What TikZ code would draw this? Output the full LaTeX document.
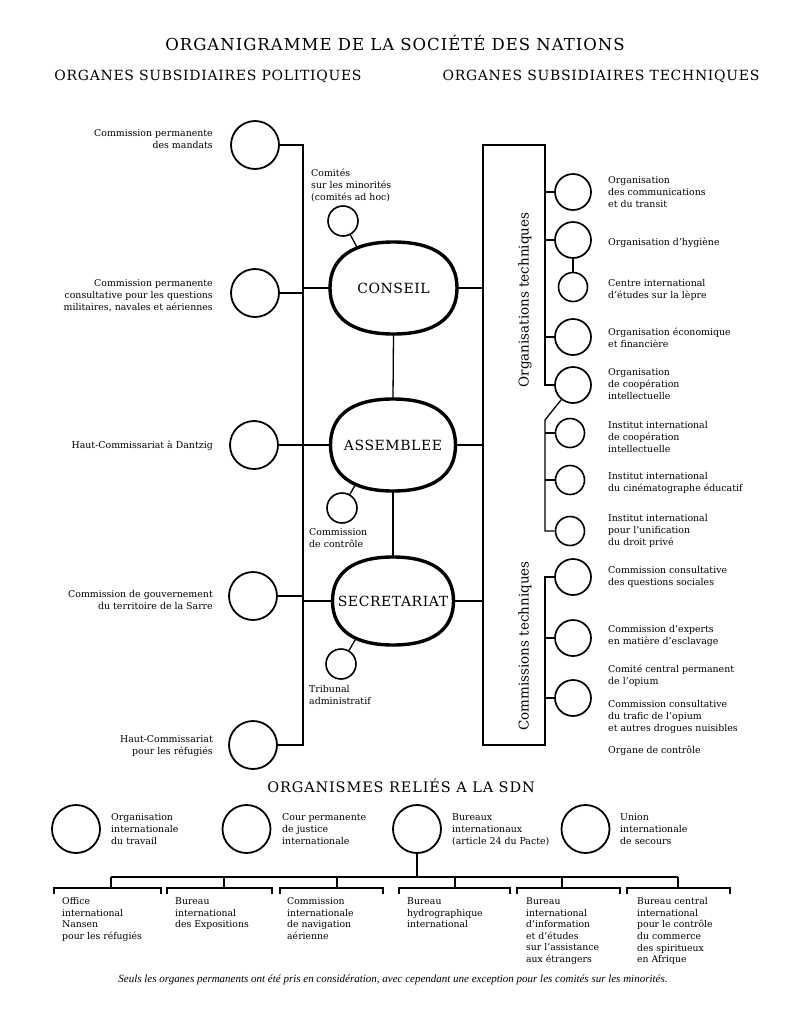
\documentclass[tikz,border=0pt]{standalone}
\usepackage{fontspec}
\usepackage{graphicx}
\setmainfont{DejaVu Serif}
\newfontfamily\titlefont[LetterSpace=6]{DejaVu Serif}
\newfontfamily\headfont[LetterSpace=5]{DejaVu Serif}
\newfontfamily\ovalfont[LetterSpace=4]{DejaVu Serif}
\newfontfamily\orgfont[LetterSpace=6]{DejaVu Serif}
\newfontfamily\notefont{Liberation Serif}
\usetikzlibrary{calc}
% squircle outline around a named centre: #1 centre, #2 half width, #3 half height
\newcommand\squircpath[3]{%
  \draw[ovalline] ($(#1)+(#2,0)$) .. controls +(0,0.65*#3) and +(0.65*#2,0) .. ($(#1)+(0,#3)$)
    .. controls +(-0.65*#2,0) and +(0,0.65*#3) .. ($(#1)+(-#2,0)$)
    .. controls +(0,-0.65*#3) and +(-0.65*#2,0) .. ($(#1)+(0,-#3)$)
    .. controls +(0.65*#2,0) and +(0,-0.65*#3) .. cycle;}
\begin{document}
\begin{tikzpicture}[x=1pt,y=-1pt,
  ln/.style={line width=1.3pt},
  ovalline/.style={line width=3.4pt},
  bigc/.style={circle,draw,line width=1.8pt,minimum size=48pt,inner sep=0pt},
  midc/.style={circle,draw,line width=1.7pt,minimum size=36pt,inner sep=0pt},
  smallc/.style={circle,draw,line width=1.6pt,minimum size=29pt,inner sep=0pt},
  tinyc/.style={circle,draw,line width=1.6pt,minimum size=30pt,inner sep=0pt},
  oval/.style={rectangle,minimum width=127pt,minimum height=92pt,inner sep=0pt,font=\ovalfont\fontsize{14}{16}\selectfont},
  lbl/.style={font=\fontsize{9.4}{12}\selectfont,inner sep=0pt},
  blbl/.style={font=\fontsize{9.3}{11.6}\selectfont,inner sep=0pt,anchor=north west,align=left},
  rlbl/.style={lbl,anchor=west,align=left},
  llbl/.style={lbl,anchor=east,align=right},
  rot/.style={font=\fontsize{13.5}{16}\selectfont,rotate=90,inner sep=0pt}
]
\useasboundingbox (0,0) rectangle (800,1015);
\fill[white] (0,0) rectangle (800,1015);

% titles
\node[font=\titlefont\fontsize{16.5}{19}\selectfont] (title) at (395,43) {ORGANIGRAMME DE LA SOCIÉTÉ DES NATIONS};
\node[font=\headfont\fontsize{14}{16}\selectfont] (hpol) at (208,76) {ORGANES SUBSIDIAIRES POLITIQUES};
\node[font=\headfont\fontsize{14}{16}\selectfont] (htech) at (601,76) {ORGANES SUBSIDIAIRES TECHNIQUES};

% central organs
\node[oval] (conseil) at (393.5,288) {CONSEIL};
\node[oval,minimum width=125pt] (assemblee) at (393,445) {ASSEMBLEE};
\node[oval,minimum width=121pt,minimum height=88pt] (secretariat) at (393,601) {SECRETARIAT};
\squircpath{conseil}{63.5}{46}
\squircpath{assemblee}{62.5}{46}
\squircpath{secretariat}{60.5}{44}

\node[tinyc] (minorites) at (343,221) {};
\node[tinyc] (controle) at (342,508) {};
\node[tinyc] (tribunal) at (341,664) {};
\coordinate (cNW) at (357.3,247.8);
\coordinate (aSW) at (355.5,484.5);
\coordinate (sSW) at (356,638.5);
\draw[ln] (minorites) -- (cNW);
\draw[ln] (controle) -- (aSW);
\draw[ln] (tribunal) -- (sSW);

\node[rlbl] (tmin) at (311,185.5) {Comités\\sur les minorités\\(comités ad hoc)};
\node[rlbl] (tctl) at (309,538) {Commission\\de contrôle};
\node[rlbl] (ttrib) at (309,694.5) {Tribunal\\administratif};

% left political organs
\node[bigc] (mandats) at (255,145) {};
\node[bigc] (militaires) at (255,293) {};
\node[bigc] (dantzig) at (254,445) {};
\node[bigc] (sarre) at (253,596) {};
\node[bigc] (refugies) at (253,745) {};

\node[llbl] (tmandats) at (213,139.5) {Commission permanente\\des mandats};
\node[llbl] (tmilit) at (213,295.5) {Commission permanente\\consultative pour les questions\\militaires, navales et aériennes};
\node[llbl] (tdantzig) at (213,446) {Haut-Commissariat à Dantzig};
\node[llbl] (tsarre) at (213,599.5) {Commission de gouvernement\\du territoire de la Sarre};
\node[llbl] (trefug) at (213,746) {Haut-Commissariat\\pour les réfugiés};

\coordinate (LT) at (303,145);
\coordinate (LB) at (303,745);
\draw[ln] (mandats) -- (LT) -- (LB) -- (refugies);
\draw[ln] (militaires) -- (militaires -| LT);
\draw[ln] (sarre) -- (sarre -| LT);
\draw[ln] (dantzig) -- (assemblee.west);
\draw[ln] (conseil.west -| LT) -- (conseil.west);
\draw[ln] (secretariat.west -| LT) -- (secretariat.west);
\draw[ln] (conseil.south) -- (assemblee.north);
\draw[ln] (assemblee.south) -- (secretariat.north);

% right technical organs
\coordinate (RTL) at (483,145);
\coordinate (RTR) at (545,145);
\coordinate (RBL) at (483,745);
\coordinate (RBR) at (545,745);
\coordinate (RS1) at (545,385);
\coordinate (RS2) at (545,577);
\coordinate (ID) at (545,420);
\coordinate (IB) at (545,531);

\draw[ln] (conseil.east) -- (conseil.east -| RTL);
\draw[ln] (assemblee.east) -- (assemblee.east -| RTL);
\draw[ln] (secretariat.east) -- (secretariat.east -| RTL);

\node[midc] (comm) at (573,192) {};
\node[midc] (hygiene) at (573,240) {};
\node[smallc] (lepre) at (573,287) {};
\node[midc] (eco) at (573,337) {};
\node[midc] (coop) at (573,385) {};
\node[smallc] (icoop) at (570,433) {};
\node[smallc] (cine) at (570,480) {};
\node[smallc] (unif) at (570,531) {};
\node[midc] (sociales) at (573,577) {};
\node[midc] (esclav) at (573,638) {};
\node[midc] (opium) at (573,698) {};

\draw[ln] (coop) -- (RS1) -- (RTR) -- (RTL) -- (RBL) -- (RBR) -- (RS2) -- (sociales);
\draw[ln] (comm) -- (comm -| RTR);
\draw[ln] (hygiene) -- (hygiene -| RTR);
\draw[ln] (hygiene) -- (lepre);
\draw[ln] (eco) -- (eco -| RTR);
\draw[ln] (coop) -- (ID) -- (IB) -- (unif);
\draw[ln] (icoop) -- (icoop -| ID);
\draw[ln] (cine) -- (cine -| ID);
\draw[ln] (esclav) -- (esclav -| RTR);
\draw[ln] (opium) -- (opium -| RTR);

\node[rot] (rorg) at (525,300) {Organisations techniques};
\node[rot] (rcom) at (525,646) {Commissions techniques};

\node[rlbl] (tcomm) at (608,192) {Organisation\\des communications\\et du transit};
\node[rlbl] (thyg) at (608,243) {Organisation d’hygiène};
\node[rlbl] (tlepre) at (608,290) {Centre international\\d’études sur la lèpre};
\node[rlbl] (teco) at (608,337.5) {Organisation économique\\et financière};
\node[rlbl] (tcoop) at (608,384.5) {Organisation\\de coopération\\intellectuelle};
\node[rlbl] (ticoop) at (608,436.5) {Institut international\\de coopération\\intellectuelle};
\node[rlbl] (tcine) at (608,482.5) {Institut international\\du cinématographe éducatif};
\node[rlbl] (tunif) at (608,530.5) {Institut international\\pour l’unification\\du droit privé};
\node[rlbl] (tsoc) at (608,576.5) {Commission consultative\\des questions sociales};
\node[rlbl] (tescl) at (608,635.5) {Commission d’experts\\en matière d’esclavage};
\node[rlbl] (tccp) at (608,676) {Comité central permanent\\de l’opium};
\node[rlbl] (ttrafic) at (608,716.5) {Commission consultative\\du trafic de l’opium\\et autres drogues nuisibles};
\node[rlbl] (torgane) at (608,751) {Organe de contrôle};

% related organisations
\node[font=\orgfont\fontsize{14.5}{17}\selectfont] (hrel) at (401,786) {ORGANISMES RELIÉS A LA SDN};

\node[bigc] (oit) at (76,829) {};
\node[bigc] (cour) at (246.5,829) {};
\node[bigc] (bureaux) at (417,829) {};
\node[bigc] (union) at (585.5,829) {};

\node[rlbl] (toit) at (111,829.5) {Organisation\\internationale\\du travail};
\node[rlbl] (tcour) at (282,829.5) {Cour permanente\\de justice\\internationale};
\node[rlbl] (tbur) at (452,829.5) {Bureaux\\internationaux\\(article 24 du Pacte)};
\node[rlbl] (tunion) at (620,829.5) {Union\\internationale\\de secours};

\coordinate (BJ) at (417,877);
\coordinate (BL) at (111,877);
\coordinate (BR) at (678,877);
\draw[ln] (bureaux) -- (BJ);
\draw[ln] (BL) -- (BR);
\foreach \l/\r/\d in {54/161/111,167/272/224,280/383/337,399/510/455,517/620/562,627/730/678}{
  \draw[ln] (\d,877) -- (\d,888);
  \draw[ln] (\l,894) -- (\l,888) -- (\r,888) -- (\r,894);
}

\node[blbl] (b1) at (62,897.5) {Office\\international\\Nansen\\pour les réfugiés};
\node[blbl] (b2) at (175,897.5) {Bureau\\international\\des Expositions};
\node[blbl] (b3) at (287,897.5) {Commission\\internationale\\de navigation\\aérienne};
\node[blbl] (b4) at (407,897.5) {Bureau\\hydrographique\\international};
\node[blbl] (b5) at (526,897.5) {Bureau\\international\\d’information\\et d’études\\sur l’assistance\\aux étrangers};
\node[blbl] (b6) at (637,897.5) {Bureau central\\international\\pour le contrôle\\du commerce\\des spiritueux\\en Afrique};

\node[inner sep=0pt] (note) at (393,980) {\resizebox{549pt}{!}{\notefont\itshape Seuls les organes permanents ont été pris en considération, avec cependant une exception pour les comités sur les minorités.}};
\end{tikzpicture}
\end{document}
